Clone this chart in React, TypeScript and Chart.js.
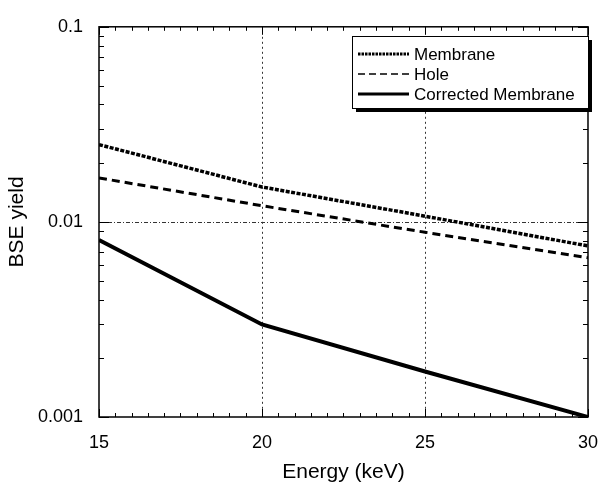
import React, { useEffect, useRef } from "react";
import { Chart, registerables } from "chart.js";

Chart.register(...registerables);

const energies = [15, 20, 25, 30];
const membrane = [0.0249, 0.0151, 0.0107, 0.00753];
const hole = [0.0168, 0.0121, 0.00885, 0.00655];
const corrected = [0.00807, 0.00298, 0.00171, 0.001];
const seriesLabels = ["Membrane", "Hole", "Corrected Membrane"];
const xGridValues = [20, 25];
const yGridValues = [0.01];
const FONT = "'Liberation Sans', Arial, Helvetica, sans-serif";

const framePlugin = {
  id: "frame",
  beforeDatasetsDraw(chart: any) {
    const { ctx, chartArea: a, scales } = chart;
    ctx.save();
    ctx.strokeStyle = "#333";
    ctx.lineWidth = 1;
    ctx.setLineDash([2, 3]);
    xGridValues.forEach((v) => {
      const x = Math.round(scales.x.getPixelForValue(v)) + 0.5;
      ctx.beginPath();
      ctx.moveTo(x, a.top);
      ctx.lineTo(x, a.bottom);
      ctx.stroke();
    });
    ctx.setLineDash([4, 2, 1, 2]);
    yGridValues.forEach((v) => {
      const y = Math.round(scales.y.getPixelForValue(v)) + 0.5;
      ctx.beginPath();
      ctx.moveTo(a.left, y);
      ctx.lineTo(a.right, y);
      ctx.stroke();
    });
    ctx.restore();
  },
  afterDatasetsDraw(chart: any) {
    const { ctx, chartArea: a, scales } = chart;
    ctx.save();
    ctx.strokeStyle = "#000";
    ctx.lineWidth = 1.5;
    ctx.setLineDash([]);
    ctx.strokeRect(a.left, a.top, a.right - a.left, a.bottom - a.top);
    ctx.lineWidth = 1;
    for (let i = 0; i <= 30; i++) {
      const v = 15 + i * 0.5;
      const x = Math.round(scales.x.getPixelForValue(v)) + 0.5;
      const major = i % 10 === 0;
      const len = major ? 8 : 4;
      ctx.beginPath();
      ctx.moveTo(x, a.bottom);
      ctx.lineTo(x, a.bottom - len);
      ctx.moveTo(x, a.top);
      ctx.lineTo(x, a.top + len);
      ctx.stroke();
    }
    for (let d = -3; d <= -1; d++) {
      for (let m = 1; m <= 9; m++) {
        const v = m * Math.pow(10, d);
        if (v > 0.1 + 1e-12) break;
        const y = Math.round(scales.y.getPixelForValue(v)) + 0.5;
        const len = m === 1 ? 10 : 5;
        ctx.beginPath();
        ctx.moveTo(a.left, y);
        ctx.lineTo(a.left + len, y);
        ctx.moveTo(a.right, y);
        ctx.lineTo(a.right - len, y);
        ctx.stroke();
      }
    }
    // legend
    const bx = 352, by = 36, bw = 236, bh = 72;
    ctx.fillStyle = "#000";
    ctx.fillRect(bx + 4, by + 4, bw, bh);
    ctx.fillStyle = "#fff";
    ctx.fillRect(bx, by, bw, bh);
    ctx.strokeStyle = "#000";
    ctx.lineWidth = 1;
    ctx.strokeRect(bx + 0.5, by + 0.5, bw, bh);
    ctx.font = `17px ${FONT}`;
    ctx.textBaseline = "middle";
    ctx.textAlign = "left";
    const rows = [54, 74, 94];
    chart.data.datasets.forEach((ds: any, i: number) => {
      const y = rows[i];
      ctx.strokeStyle = "#000";
      ctx.lineWidth = i === 1 ? 1.5 : 3;
      ctx.setLineDash(i === 0 ? [2.5, 1] : i === 1 ? [7, 4] : []);
      ctx.beginPath();
      ctx.moveTo(358, y);
      ctx.lineTo(409, y);
      ctx.stroke();
      ctx.setLineDash([]);
      ctx.fillStyle = "#000";
      ctx.fillText(ds.label, 414, y + 1);
    });
    ctx.restore();
  },
};

export default function App() {
  const ref = useRef<HTMLCanvasElement>(null);
  useEffect(() => {
    if (!ref.current) return;
    const toPts = (arr: number[]) => energies.map((x, i) => ({ x, y: arr[i] }));
    const chart = new Chart(ref.current, {
      type: "line",
      data: {
        datasets: [
          { label: seriesLabels[0], data: toPts(membrane), borderColor: "#000", borderWidth: 3.5, borderDash: [4, 1.5], pointRadius: 0, fill: false, tension: 0 },
          { label: seriesLabels[1], data: toPts(hole), borderColor: "#000", borderWidth: 3, borderDash: [8, 5], pointRadius: 0, fill: false, tension: 0 },
          { label: seriesLabels[2], data: toPts(corrected), borderColor: "#000", borderWidth: 4, pointRadius: 0, fill: false, tension: 0 },
        ],
      },
      options: {
        responsive: false,
        animation: false,
        layout: { padding: { left: 0, right: 11, top: 20, bottom: 0 } },
        plugins: { legend: { display: false }, tooltip: { enabled: false } },
        scales: {
          x: {
            type: "linear",
            min: 15,
            max: 30,
            grid: { display: false, drawTicks: false },
            border: { display: false },
            ticks: { stepSize: 5, padding: 15, color: "#000", font: { family: FONT, size: 18 } },
            title: { display: true, text: "Energy (keV)", color: "#000", font: { family: FONT, size: 21 }, padding: { top: 0, bottom: 4 } },
            afterFit: (s: any) => { s.height = 72; },
          },
          y: {
            type: "logarithmic",
            min: 0.001,
            max: 0.1,
            grid: { display: false, drawTicks: false },
            border: { display: false },
            ticks: {
              autoSkip: false,
              padding: 16,
              color: "#000",
              font: { family: FONT, size: 18 },
              callback: (v: any) => {
                const l = Math.log10(Number(v));
                return Math.abs(l - Math.round(l)) < 1e-9 ? String(Number(v)) : "";
              },
            },
            title: { display: true, text: "BSE yield", color: "#000", font: { family: FONT, size: 21 }, padding: { top: 5, bottom: 0 } },
            afterFit: (s: any) => { s.width = 99; },
          },
        },
      },
      plugins: [framePlugin],
    });
    return () => chart.destroy();
  }, []);
  return (
    <div style={{ position: "absolute", left: 0, top: 0, width: 613, height: 489, background: "#fff" }}>
      <canvas ref={ref} width={613} height={489} />
    </div>
  );
}
